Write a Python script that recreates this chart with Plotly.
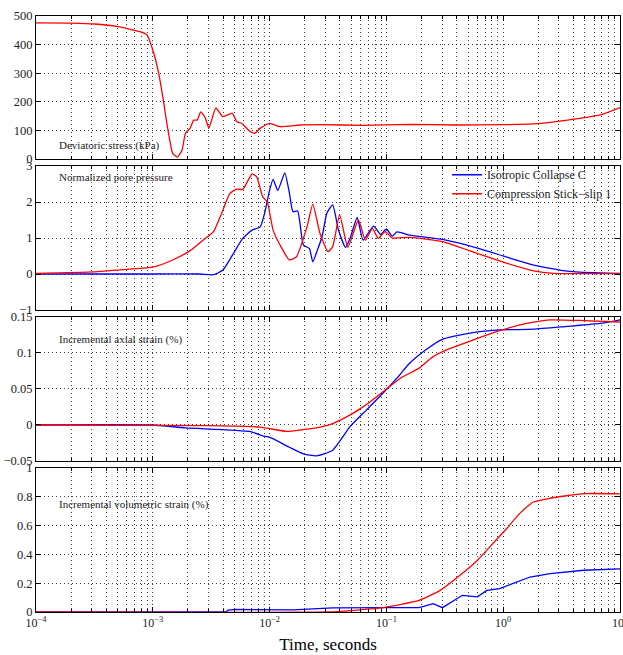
import numpy as np
import plotly.graph_objects as go
from plotly.subplots import make_subplots

# ---------------- data (log10 time, value) ----------------
stress_logt = [-4.0, -3.7, -3.5, -3.3, -3.11, -3.05, -3.0, -2.95, -2.91, -2.87, -2.83, -2.79, -2.75,
               -2.72, -2.68, -2.65, -2.62, -2.59, -2.55, -2.52, -2.46, -2.40, -2.32, -2.28, -2.24,
               -2.18, -2.13, -2.08, -2.0, -1.91, -1.74, -1.57, -1.2, -0.8, -0.4, 0.0, 0.3, 0.55, 0.83, 1.0]
stress_val = [476, 475, 472, 463, 445, 434, 381, 300, 206, 101, 20, 7, 31,
              90, 108, 136, 136, 165, 143, 108, 179, 148, 160, 130, 125,
              101, 90, 108, 125, 113, 119, 120, 118, 121, 119, 120, 124, 136, 154, 180]

pp_red_logt = [-4.0, -3.5, -3.22, -3.0, -2.83, -2.68, -2.57, -2.48, -2.41, -2.34, -2.28, -2.23, -2.15,
               -2.11, -2.06, -2.02, -1.97, -1.91, -1.83, -1.77, -1.68, -1.63, -1.57, -1.50, -1.46,
               -1.40, -1.33, -1.24, -1.18, -1.12, -1.07, -1.01, -0.95, -0.80, -0.52, -0.22, 0.03,
               0.26, 0.43, 0.7, 1.0]
pp_red_val = [0.02, 0.06, 0.13, 0.19, 0.39, 0.65, 0.94, 1.18, 1.69, 2.24, 2.36, 2.35, 2.78,
              2.70, 2.15, 2.0, 1.22, 0.8, 0.39, 0.48, 1.31, 1.94, 1.14, 0.62, 0.76,
              1.64, 0.74, 1.5, 0.94, 1.27, 0.99, 1.18, 1.0, 1.02, 0.9, 0.57, 0.3,
              0.09, 0.02, 0.01, 0.01]

pp_blue_logt = [-4.0, -3.0, -2.6, -2.48, -2.40, -2.31, -2.23, -2.15, -2.08, -2.04, -2.0, -1.97,
                -1.93, -1.87, -1.83, -1.80, -1.76, -1.71, -1.66, -1.63, -1.59, -1.55, -1.51, -1.46,
                -1.41, -1.35, -1.31, -1.25, -1.20, -1.11, -1.05, -1.0, -0.95, -0.91, -0.80, -0.52,
                -0.22, 0.03, 0.26, 0.55, 0.83, 1.0]
pp_blue_val = [0.0, 0.0, 0.0, -0.02, 0.11, 0.57, 0.99, 1.22, 1.31, 1.73, 2.33, 2.63,
               2.32, 2.81, 2.24, 1.73, 1.75, 0.8, 0.71, 0.34, 0.67, 1.05, 1.69, 1.92,
               1.22, 0.74, 1.0, 1.57, 0.94, 1.33, 1.1, 1.25, 1.05, 1.17, 1.08, 0.96,
               0.72, 0.47, 0.25, 0.08, 0.03, 0.02]

ax_blue_logt = [-4.0, -3.0, -2.72, -2.17, -2.06, -2.0, -1.83, -1.71, -1.6, -1.46, -1.31, -1.17,
                -1.03, -0.91, -0.80, -0.65, -0.52, -0.31, -0.03, 0.26, 0.55, 0.83, 1.0]
ax_blue_val = [0.0, 0.0, -0.004, -0.009, -0.015, -0.017, -0.031, -0.040, -0.043, -0.035, -0.002,
               0.021, 0.044, 0.065, 0.086, 0.106, 0.119, 0.127, 0.132, 0.133, 0.137, 0.141, 0.146]

ax_red_logt = [-4.0, -2.5, -2.08, -1.85, -1.74, -1.6, -1.46, -1.31, -1.23, -1.14, -1.03, -0.88,
               -0.72, -0.60, -0.46, -0.26, -0.03, 0.20, 0.40, 0.69, 1.0]
ax_red_val = [0.0, -0.001, -0.003, -0.009, -0.007, -0.004, 0.002, 0.014, 0.022, 0.032, 0.046,
              0.065, 0.079, 0.095, 0.106, 0.118, 0.131, 0.141, 0.146, 0.145, 0.143]

vol_blue_logt = [-4.0, -2.37, -2.36, -2.3, -1.8, -1.46, -1.0, -0.72, -0.6, -0.52, -0.35, -0.22,
                 -0.14, -0.03, 0.08, 0.23, 0.40, 0.69, 1.0]
vol_blue_val = [0.0, 0.0, 0.012, 0.018, 0.015, 0.028, 0.03, 0.03, 0.058, 0.03, 0.116, 0.105,
                0.15, 0.162, 0.197, 0.243, 0.267, 0.29, 0.30]

vol_red_logt = [-4.0, -1.5, -1.3, -1.03, -0.72, -0.54, -0.37, -0.22, -0.09, 0.03, 0.14, 0.26,
                0.40, 0.69, 1.0]
vol_red_val = [0.0, 0.0, 0.01, 0.03, 0.08, 0.15, 0.255, 0.36, 0.475, 0.58, 0.683, 0.764,
               0.79, 0.822, 0.82]

series_names = ["Isotropic Collapse C", "Compression Stick\u2212slip 1"]
x_tickvals = [1e-4, 1e-3, 1e-2, 1e-1, 1e0, 1e1]
x_ticktext = ["10<sup>\u22124</sup>", "10<sup>\u22123</sup>", "10<sup>\u22122</sup>",
              "10<sup>\u22121</sup>", "10<sup>0</sup>", "10<sup>1</sup>"]
panel_labels = ["Deviatoric stress (kPa)", "Normalized pore pressure",
                "Incremental axial strain (%)", "Incremental volumetric strain (%)"]
y_ranges = [[0, 500], [-1, 3], [-0.05, 0.15], [0, 1]]
y_tickvals = [[0, 100, 200, 300, 400, 500], [-1, 0, 1, 2, 3],
              [-0.05, 0, 0.05, 0.1, 0.15], [0, 0.2, 0.4, 0.6, 0.8, 1]]
y_ticktext = [["0", "100", "200", "300", "400", "500"], ["\u22121", "0", "1", "2", "3"],
              ["\u22120.05", "0", "0.05", "0.1", "0.15"], ["0", "0.2", "0.4", "0.6", "0.8", "1"]]

BLUE = "#0000ff"
RED = "#ff0000"
FONT = "Liberation Serif, Times New Roman, serif"

def T(lt):
    return 10 ** np.array(lt, dtype=float)

fig = make_subplots(rows=4, cols=1, shared_xaxes=True, vertical_spacing=0.0)

# domains matched to the reference layout
domains = [[0.760, 1.0], [0.5067, 0.7483], [0.2534, 0.495], [0.0, 0.2416]]

line_kw = dict(shape="spline", smoothing=0.5, width=1.3)

fig.add_trace(go.Scatter(x=T(stress_logt), y=stress_val, mode="lines",
                         line=dict(color=RED, **line_kw), showlegend=False), row=1, col=1)

fig.add_trace(go.Scatter(x=T(pp_blue_logt), y=pp_blue_val, mode="lines", name=series_names[0],
                         line=dict(color=BLUE, **line_kw)), row=2, col=1)
fig.add_trace(go.Scatter(x=T(pp_red_logt), y=pp_red_val, mode="lines", name=series_names[1],
                         line=dict(color=RED, **line_kw)), row=2, col=1)

fig.add_trace(go.Scatter(x=T(ax_blue_logt), y=ax_blue_val, mode="lines", showlegend=False,
                         line=dict(color=BLUE, **line_kw)), row=3, col=1)
fig.add_trace(go.Scatter(x=T(ax_red_logt), y=ax_red_val, mode="lines", showlegend=False,
                         line=dict(color=RED, **line_kw)), row=3, col=1)

fig.add_trace(go.Scatter(x=T(vol_blue_logt), y=vol_blue_val, mode="lines", showlegend=False,
                         line=dict(color=BLUE, width=1.3)), row=4, col=1)
fig.add_trace(go.Scatter(x=T(vol_red_logt), y=vol_red_val, mode="lines", showlegend=False,
                         line=dict(color=RED, **line_kw)), row=4, col=1)

minor_vals = [m * 10.0 ** d for d in range(-4, 1) for m in range(2, 10)]

grid_kw = dict(showgrid=True, gridcolor="rgba(0,0,0,0.75)", gridwidth=1, griddash="1px,3px")

for i in range(4):
    r = i + 1
    fig.update_xaxes(type="log", range=[-4, 1], autorange=False, tickvals=x_tickvals,
                     ticktext=x_ticktext, ticklabeloverflow="allow",
                     showticklabels=(r == 4), automargin=False,
                     ticks="inside", ticklen=5, tickcolor="black",
                     showline=True, linecolor="black", linewidth=1, mirror="allticks",
                     minor=dict(tickvals=minor_vals, ticks="inside", ticklen=3, tickcolor="black",
                                showgrid=True, gridcolor="rgba(0,0,0,0.75)", gridwidth=1,
                                griddash="1px,3px"),
                     tickfont=dict(family=FONT, size=12, color="#222"),
                     zeroline=False, domain=[0, 1], row=r, col=1, **grid_kw)
    fig.update_yaxes(range=y_ranges[i], autorange=False, tickvals=y_tickvals[i],
                     ticktext=y_ticktext[i], automargin=False,
                     ticks="inside", ticklen=5, tickcolor="black",
                     showline=True, linecolor="black", linewidth=1, mirror="allticks",
                     tickfont=dict(family=FONT, size=12.5, color="#222"),
                     zeroline=False, domain=domains[i], row=r, col=1, **grid_kw)

fig.update_xaxes(title=dict(text="Time, seconds", font=dict(family=FONT, size=17, color="black"),
                            standoff=8), row=4, col=1)

label_y = [0.782, 0.730, 0.458, 0.181]
for i, txt in enumerate(panel_labels):
    fig.add_annotation(text=txt, xref="paper", yref="paper", x=0.036, y=label_y[i],
                       xanchor="left", yanchor="middle", showarrow=False,
                       font=dict(family=FONT, size=11, color="#222"))

fig.update_layout(
    width=623, height=655,
    margin=dict(l=36, r=3, t=16, b=43),
    paper_bgcolor="white", plot_bgcolor="white",
    font=dict(family=FONT, color="#222"),
    legend=dict(x=0.995, y=0.758, xanchor="right", yanchor="top",
                bgcolor="rgba(255,255,255,0)", borderwidth=0,
                font=dict(family=FONT, size=12, color="#222"),
                itemwidth=30, tracegroupgap=0),
)

fig.write_html("out.html", config={"displayModeBar": False},
               post_script="document.body.style.margin='0px';")
